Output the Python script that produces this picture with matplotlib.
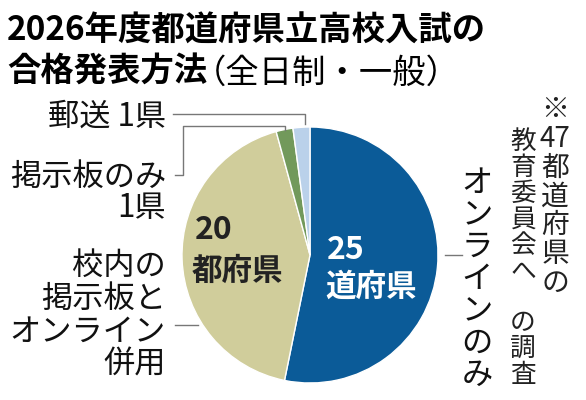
import numpy as np
import matplotlib
matplotlib.use("Agg")
import matplotlib.pyplot as plt

plt.rcParams['font.family'] = ['Noto Sans CJK JP', 'DejaVu Sans']

# data (47 prefectures in total)
categories = ['オンラインのみ', '校内の掲示板とオンライン併用', '掲示板のみ', '郵送']
counts = [25, 20, 1, 1]
colors = ['#0b5b98', '#d0cd9b', '#72995b', '#bad1ea']

title_1 = '2026年度都道府県立高校入試の'
title_2 = '合格発表方法'
title_sub = '（全日制・一般）'
note_1 = ['※', '47', '都', '道', '府', '県', 'の']
note_2 = list('教育委員会へ') + [''] + list('の調査')

W, H = 586, 400
fig = plt.figure(figsize=(W / 100, H / 100), dpi=100)
fig.patch.set_facecolor('white')

# pie axes, center (310, 255) px, radius 128 px
cx, cy, r = 310, 255, 128
ax = fig.add_axes([(cx - r) / W, (H - cy - r) / H, 2 * r / W, 2 * r / H])
ax.pie(counts, colors=colors, startangle=90, counterclock=False,
       wedgeprops=dict(edgecolor='white', linewidth=1))
ax.set_xlim(-1, 1)
ax.set_ylim(-1, 1)
ax.set_aspect('equal')

# overlay axes in pixel coords for texts and leader lines
ov = fig.add_axes([0, 0, 1, 1], zorder=5)
ov.set_xlim(0, W)
ov.set_ylim(H, 0)
ov.axis('off')

# title
ov.text(7, 31, title_1, fontsize=24, fontweight='bold', va='center', ha='left')
ov.text(7, 72, title_2, fontsize=24, fontweight='bold', va='center', ha='left')
ov.text(193, 73, title_sub, fontsize=24, va='center', ha='left')

lab = dict(fontsize=22.5, ha='right', va='center', color='#111111')
line = dict(color='#777777', linewidth=1)

# 郵送
ov.text(166, 117, f'{categories[3]} {counts[3]}県', **lab)
ov.plot([173, 305, 305], [114, 114, 124], **line)

# 掲示板のみ
ov.text(166, 177, categories[2], **lab)
ov.text(166, 208, f'{counts[2]}県', **lab)
ov.plot([175, 183, 183, 285, 285], [175, 175, 126, 126, 130], **line)

# 校内の掲示板とオンライン併用
ov.text(166, 315, '校内の\n掲示板と\nオンライン\n併用', fontsize=22.5, ha='right',
        va='center', linespacing=1.03, color='#111111')
ov.plot([175, 198], [325, 325], **line)

# values in the slices
ov.text(195, 230, str(counts[1]), fontsize=23, fontweight='bold', ha='left',
        va='center', color='#222222')
ov.text(192, 271, '都府県', fontsize=22, fontweight='bold', ha='left',
        va='center', color='#222222')
ov.text(327, 250, str(counts[0]), fontsize=23, fontweight='bold', ha='left',
        va='center', color='white')
ov.text(325, 287, '道府県', fontsize=22, fontweight='bold', ha='left',
        va='center', color='white')


# vertical text helper
def vtext(x, y0, chars, step, **kw):
    for i, c in enumerate(chars):
        ov.text(x, y0 + i * step, c, ha='center', va='center', **kw)


# オンラインのみ (vertical)
vtext(477, 183, list(categories[0]), 32, fontsize=22.5, color='#111111')
ov.plot([445, 462], [255, 255], **line)

# note (vertical)
vtext(555, 110, note_1, 28.8, fontsize=20, color='#222222')
vtext(523, 142, note_2, 25.9, fontsize=18.5, color='#222222')

fig.savefig('out.png', dpi=100)
